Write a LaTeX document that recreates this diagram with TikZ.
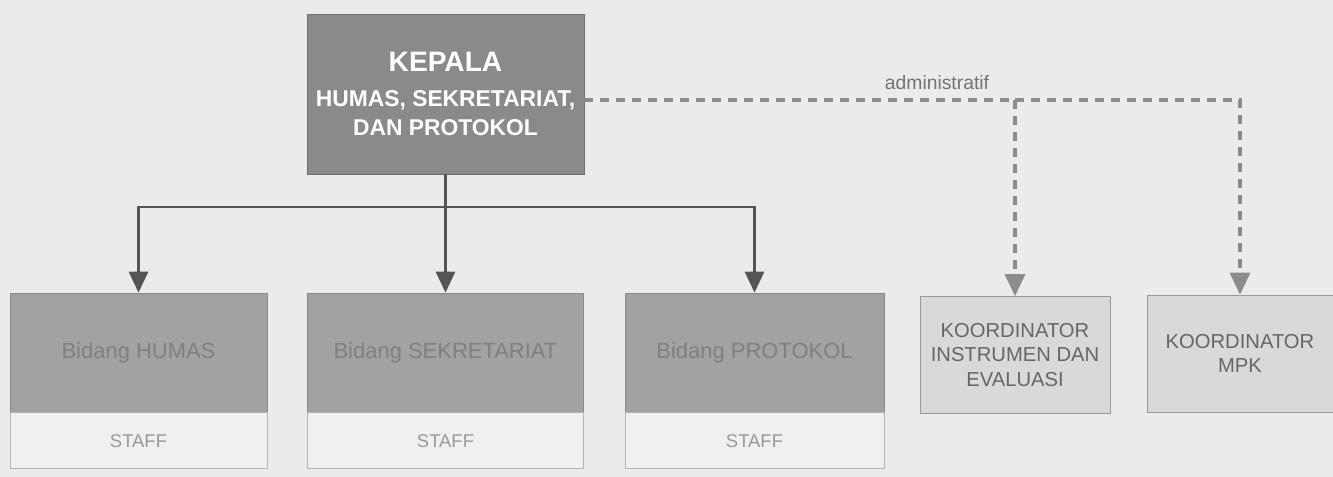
\documentclass[tikz,border=0pt]{standalone}
\usepackage{fontspec}
\setmainfont{Liberation Sans}
\usepackage{xcolor}
\usetikzlibrary{arrows.meta}

\definecolor{bgpaper}{HTML}{E9EBED}
\definecolor{headgray}{HTML}{8A8A8A}
\definecolor{bidgray}{HTML}{A2A2A2}
\definecolor{koorgray}{HTML}{D8D9DA}
\definecolor{staffgray}{HTML}{EFF0F1}
\definecolor{linegray}{HTML}{555555}
\definecolor{dashgray}{HTML}{8C8C8C}

\begin{document}
\begin{tikzpicture}[
  head/.style={draw=headgray!80!black, fill=headgray, minimum width=5.54cm,
               minimum height=3.2cm, align=center, text=white,
               font=\bfseries\fontsize{13}{16.5}\selectfont},
  bidang/.style={draw=bidgray!85!black, fill=bidgray, minimum height=2.38cm,
                 align=center, text=black!50, font=\fontsize{12.5}{14}\selectfont},
  staff/.style={draw=black!30, fill=staffgray, minimum height=1.12cm,
                text=black!40, font=\fontsize{10.5}{12}\selectfont},
  koor/.style={draw=black!40, fill=koorgray, minimum height=2.34cm, align=center,
               text=black!60, font=\fontsize{11.5}{14}\selectfont},
  line/.style={line width=1.7pt, draw=linegray},
  arr/.style={line, -{Triangle[width=0.38cm,length=0.42cm]}},
  darr/.style={line width=2pt, draw=dashgray, dash pattern=on 0.18cm off 0.14cm,
               -{Triangle[width=0.4cm,length=0.44cm,fill=dashgray]}},
  dline/.style={line width=2pt, draw=dashgray, dash pattern=on 0.18cm off 0.14cm}
]
  \useasboundingbox (0,0) rectangle (26.66,-9.52);
  \fill[bgpaper] (-0.2,0.2) rectangle (26.86,-9.72);

  % Nodes
  \node[head] (kepala) at (8.91,-1.88)
    {{\fontsize{16}{18}\selectfont KEPALA}\\[3pt]
     HUMAS, SEKRETARIAT,\\
     DAN PROTOKOL};

  \node[bidang, minimum width=5.14cm] (humas)   at (2.77,-7.05)  {Bidang HUMAS};
  \node[bidang, minimum width=5.52cm] (sekre)   at (8.91,-7.05)  {Bidang SEKRETARIAT};
  \node[bidang, minimum width=5.18cm] (proto)   at (15.09,-7.05) {Bidang PROTOKOL};
  \node[staff, minimum width=5.14cm, anchor=north] (stHumas) at (humas.south) {STAFF};
  \node[staff, minimum width=5.52cm, anchor=north] (stSekre) at (sekre.south) {STAFF};
  \node[staff, minimum width=5.18cm, anchor=north] (stProto) at (proto.south) {STAFF};

  \node[koor, minimum width=3.8cm]  (instr) at (20.3,-7.1)
    {KOORDINATOR\\INSTRUMEN DAN\\EVALUASI};
  \node[koor, minimum width=3.72cm] (mpk)   at (24.8,-7.07) {KOORDINATOR\\MPK};

  \coordinate (split) at (8.91,-4.14);
  \coordinate (admL) at ([yshift=-0.12cm]kepala.east);

  % Paths
  \draw[line] (kepala) -- (split);
  \draw[arr] (split) -| (humas);
  \draw[arr] (split) -- (sekre);
  \draw[arr] (split) -| (proto);

  \draw[dline] (admL) -- (admL -| instr);
  \draw[darr] (admL -| instr) -| (mpk);
  \draw[darr] (admL -| instr) -- (instr);

  \node[text=black!55, font=\fontsize{11}{12}\selectfont] (adm) at (18.74,-1.66) {administratif};
\end{tikzpicture}
\end{document}
